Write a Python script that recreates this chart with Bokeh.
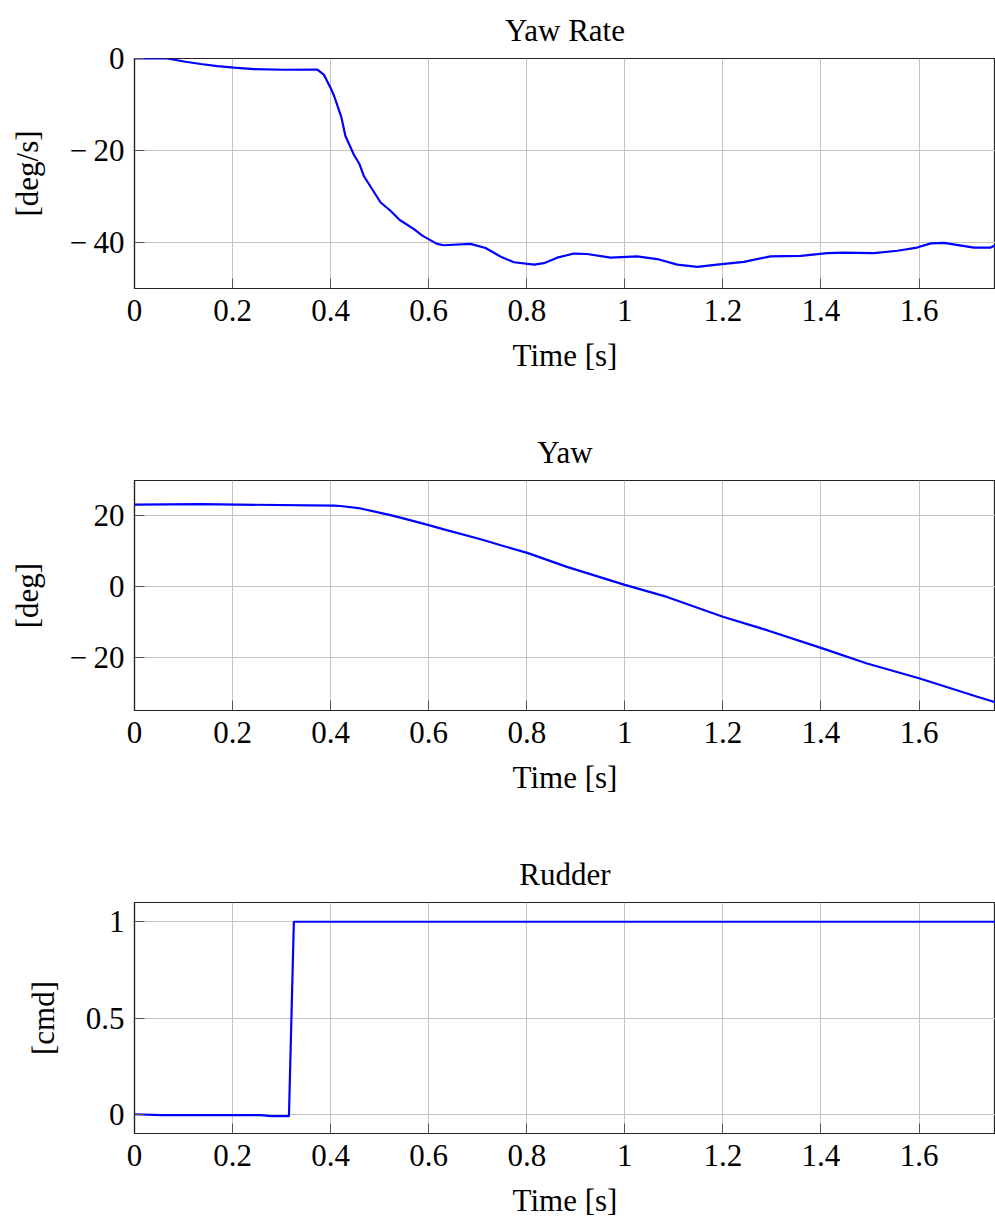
from bokeh.plotting import figure
from bokeh.layouts import column
from bokeh.models import FixedTicker, CustomJSTickFormatter, Range1d
from bokeh.embed import file_html
from bokeh.resources import INLINE

# ---------------- data ----------------
t_rate = [0.0, 0.067, 0.104, 0.135, 0.169, 0.203, 0.243, 0.305, 0.373, 0.386, 0.400, 0.407,
          0.422, 0.430, 0.447, 0.459, 0.468, 0.502, 0.522, 0.541, 0.570, 0.587, 0.617, 0.631,
          0.685, 0.716, 0.747, 0.774, 0.815, 0.835, 0.862, 0.896, 0.923, 0.971, 1.025, 1.066,
          1.107, 1.148, 1.188, 1.243, 1.297, 1.359, 1.413, 1.447, 1.508, 1.556, 1.596, 1.624,
          1.651, 1.712, 1.746, 1.756, 1.770]
yaw_rate = [0.0, 0.0, -0.7, -1.2, -1.65, -2.0, -2.3, -2.45, -2.4, -3.5, -6.4, -8.1,
            -12.8, -16.8, -20.8, -23.0, -25.6, -31.3, -33.1, -35.1, -37.1, -38.5, -40.3, -40.6,
            -40.3, -41.2, -43.1, -44.3, -44.8, -44.5, -43.3, -42.4, -42.5, -43.3, -43.0, -43.6,
            -44.8, -45.3, -44.8, -44.2, -43.0, -42.9, -42.3, -42.2, -42.3, -41.8, -41.1, -40.2,
            -40.1, -41.1, -41.1, -40.6, -40.2]

t_yaw = [0.0, 0.135, 0.407, 0.420, 0.461, 0.522, 0.556, 0.600, 0.631, 0.706, 0.747, 0.801,
         0.882, 1.0, 1.086, 1.2, 1.29, 1.4, 1.494, 1.6, 1.719, 1.756, 1.77]
yaw = [23.2, 23.3, 22.9, 22.8, 22.1, 20.2, 19.0, 17.4, 16.2, 13.4, 11.7, 9.55,
       5.6, 0.5, -2.9, -8.5, -12.3, -17.3, -21.7, -25.9, -31.1, -32.7, -33.3]

t_rudder = [0.0, 0.054, 0.258, 0.278, 0.315, 0.325, 1.0, 1.77]
rudder = [0.0, -0.005, -0.005, -0.01, -0.01, 1.0, 1.0, 1.0]

x_ticks = [0, 0.2, 0.4, 0.6, 0.8, 1.0, 1.2, 1.4, 1.6, 1.8]
rate_ticks = [-40, -20, 0]
yaw_ticks = [-20, 0, 20]
rudder_ticks = [0, 0.5, 1]

x_limits = (0, 1.756)
rate_limits = (-50, 0)
yaw_limits = (-35, 30)
rudder_limits = (-0.1, 1.1)

titles = ["Yaw Rate", "Yaw", "Rudder"]
ylabels = ["[deg/s]", "[deg]", "[cmd]"]
xlabel = "Time [s]"

# ---------------- style ----------------
FONT = "Liberation Serif"
FS = "31px"
GRID = "#c4c4c4"
TICK = "#555555"

fmt_code = """
var s = (Math.round(tick*1000)/1000).toString();
return s.replace('-', '\\u2212\\u2009');
"""


def make_fig(title, ylabel, t, v, yticks, ylim, height, bottom):
    p = figure(width=995, height=height, x_range=Range1d(*x_limits), y_range=Range1d(*ylim),
               output_backend="svg", toolbar_location=None,
               min_border_left=134, min_border_right=0, min_border_top=58,
               min_border_bottom=bottom)
    p.outline_line_color = "#222222"
    p.outline_line_width = 1.2
    p.background_fill_color = "white"
    p.border_fill_color = "white"

    p.title.text = title
    p.title.align = "center"
    p.title.offset = 4
    p.title.standoff = 21
    p.title.text_font = FONT
    p.title.text_font_size = FS
    p.title.text_font_style = "normal"
    p.title.text_color = "black"

    xa = p.below[0]
    xa.ticker = FixedTicker(ticks=x_ticks)
    xa.formatter = CustomJSTickFormatter(code=fmt_code)
    xa.axis_label = xlabel
    ya = p.left[0]
    ya.ticker = FixedTicker(ticks=yticks)
    ya.formatter = CustomJSTickFormatter(code=fmt_code)
    ya.axis_label = ylabel
    for ax in (xa, ya):
        ax.major_label_text_font = FONT
        ax.major_label_text_font_size = FS
        ax.major_label_text_color = "black"
        ax.axis_label_text_font = FONT
        ax.axis_label_text_font_size = FS
        ax.axis_label_text_font_style = "normal"
        ax.axis_label_text_color = "black"
        ax.major_tick_in = 10
        ax.major_tick_out = 0
        ax.minor_tick_line_color = None
        ax.major_tick_line_color = TICK
        ax.axis_line_color = "#222222"
        ax.axis_line_width = 1.2
    xa.major_label_standoff = 11
    xa.axis_label_standoff = 14
    ya.major_label_standoff = 10
    ya.axis_label_standoff = 22

    p.xgrid.ticker = FixedTicker(ticks=x_ticks)
    p.ygrid.ticker = FixedTicker(ticks=yticks)
    p.grid.grid_line_color = GRID
    p.grid.grid_line_width = 1

    p.line(t, v, line_color="#0000ff", line_width=2.2)
    return p


p1 = make_fig(titles[0], ylabels[0], t_rate, yaw_rate, rate_ticks, rate_limits, 422, 134)
p2 = make_fig(titles[1], ylabels[1], t_yaw, yaw, yaw_ticks, yaw_limits, 422, 134)
p3 = make_fig(titles[2], ylabels[2], t_rudder, rudder, rudder_ticks, rudder_limits, 378, 89)

layout = column(p1, p2, p3, spacing=0)
open("out.html", "w").write(file_html(layout, INLINE))
